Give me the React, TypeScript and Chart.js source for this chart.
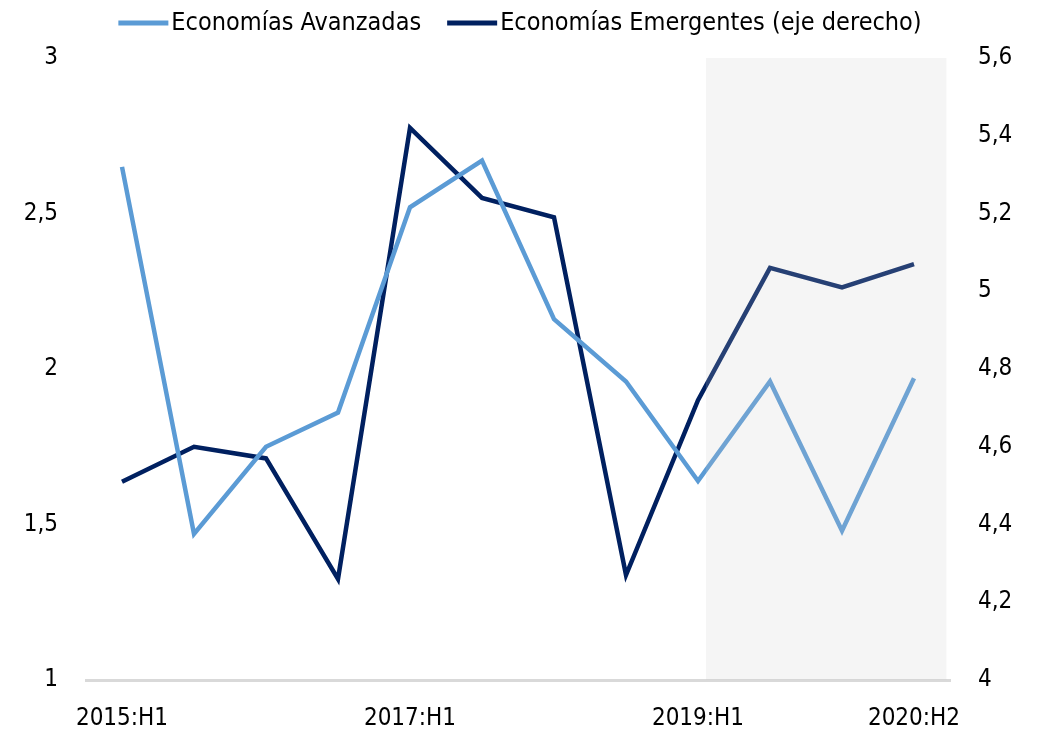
import React, { useEffect, useRef } from "react";
import { Chart, registerables } from "chart.js";

Chart.register(...registerables);

const categories = [
  "2015:H1", "2015:H2", "2016:H1", "2016:H2", "2017:H1", "2017:H2",
  "2018:H1", "2018:H2", "2019:H1", "2019:H2", "2020:H1", "2020:H2",
];
const shownLabels = ["2015:H1", "2017:H1", "2019:H1", "2020:H2"];
const avanzadas = [2.65, 1.47, 1.75, 1.86, 2.52, 2.67, 2.16, 1.96, 1.64, 1.96, 1.48, 1.97];
const emergentes = [4.51, 4.6, 4.57, 4.26, 5.42, 5.24, 5.19, 4.27, 4.72, 5.06, 5.01, 5.07];
const shadeFrom = "2019:H1";
const shadeTo = "2020:H2";

const FONT = "'Liberation Sans Narrow', 'DejaVu Sans Condensed', 'Arial Narrow', sans-serif";

const shadePlugin = {
  id: "shade",
  afterDatasetsDraw(chart: any) {
    const x = chart.scales.x;
    const { top, bottom } = chart.chartArea;
    const i0 = categories.indexOf(shadeFrom);
    const i1 = categories.indexOf(shadeTo);
    const step = x.getPixelForValue(1) - x.getPixelForValue(0);
    const left = x.getPixelForValue(i0) + step * 0.11;
    const right = x.getPixelForValue(i1) + step * 0.45;
    const ctx = chart.ctx;
    ctx.save();
    ctx.fillStyle = "rgba(200,200,200,0.19)";
    ctx.fillRect(left, top, right - left, bottom - top);
    ctx.restore();
  },
};

const legendPlugin = {
  id: "customLegend",
  afterDraw(chart: any) {
    const ctx = chart.ctx;
    ctx.save();
    ctx.font = `25px ${FONT}`;
    ctx.textBaseline = "middle";
    const boxW = 50;
    const gap = 3;
    const spacing = 26;
    const items = chart.data.datasets.map((d: any) => ({
      label: d.label,
      color: d.borderColor,
      w: ctx.measureText(d.label).width,
    }));
    const total = items.reduce((s: number, it: any) => s + boxW + gap + it.w, 0) + spacing * (items.length - 1);
    let x = chart.width / 2 - total / 2;
    const y = 23;
    items.forEach((it: any) => {
      ctx.fillStyle = it.color;
      ctx.fillRect(x, y - 2.5, boxW, 5);
      x += boxW + gap;
      ctx.fillStyle = "#000";
      ctx.fillText(it.label, x, y);
      x += it.w + spacing;
    });
    ctx.restore();
  },
};

export default function App() {
  const ref = useRef<HTMLCanvasElement>(null);
  useEffect(() => {
    if (!ref.current) return;
    const chart = new Chart(ref.current, {
      type: "line",
      data: {
        labels: categories,
        datasets: [
          {
            label: "Economías Avanzadas",
            data: avanzadas,
            borderColor: "#5b9bd5",
            backgroundColor: "#5b9bd5",
            borderWidth: 4.5,
            pointRadius: 0,
            tension: 0,
            yAxisID: "y",
          },
          {
            label: "Economías Emergentes (eje derecho)",
            data: emergentes,
            borderColor: "#002060",
            backgroundColor: "#002060",
            borderWidth: 4.5,
            pointRadius: 0,
            tension: 0,
            yAxisID: "y1",
          },
        ],
      },
      plugins: [shadePlugin, legendPlugin],
      options: {
        animation: false,
        responsive: false,
        maintainAspectRatio: false,
        layout: { padding: { left: 0, right: 0, top: 58, bottom: 0 } },
        plugins: {
          tooltip: { enabled: false },
          legend: { display: false },
        },
        scales: {
          x: {
            offset: true,
            grid: { display: false, drawTicks: false },
            border: { display: true, color: "#d9d9d9", width: 3 },
            ticks: {
              autoSkip: false,
              maxRotation: 0,
              padding: 24,
              color: "#000",
              font: { family: FONT, size: 24 },
              callback: (v: any, i: number) =>
                shownLabels.includes(categories[i]) ? categories[i] : "",
            },
            afterFit: (s: any) => { s.height = 55; },
          },
          y: {
            position: "left",
            min: 1,
            max: 3,
            grid: { display: false, drawTicks: false },
            border: { display: false },
            ticks: {
              stepSize: 0.5,
              padding: 28,
              color: "#000",
              font: { family: FONT, size: 24 },
              callback: (v: any) => String(v).replace(".", ","),
            },
            afterFit: (s: any) => { s.width = 86; },
          },
          y1: {
            position: "right",
            min: 4,
            max: 5.6,
            grid: { display: false, drawTicks: false },
            border: { display: false },
            ticks: {
              stepSize: 0.2,
              padding: 28,
              color: "#000",
              font: { family: FONT, size: 24 },
              callback: (v: any) => String(Math.round(v * 10) / 10).replace(".", ","),
            },
            afterFit: (s: any) => { s.width = 90; },
          },
        },
      },
    } as any);
    return () => chart.destroy();
  }, []);
  return (
    <div style={{ position: "fixed", left: 0, top: 0, width: 1040, height: 735, background: "#fff" }}>
      <canvas ref={ref} width={1040} height={735} />
    </div>
  );
}
